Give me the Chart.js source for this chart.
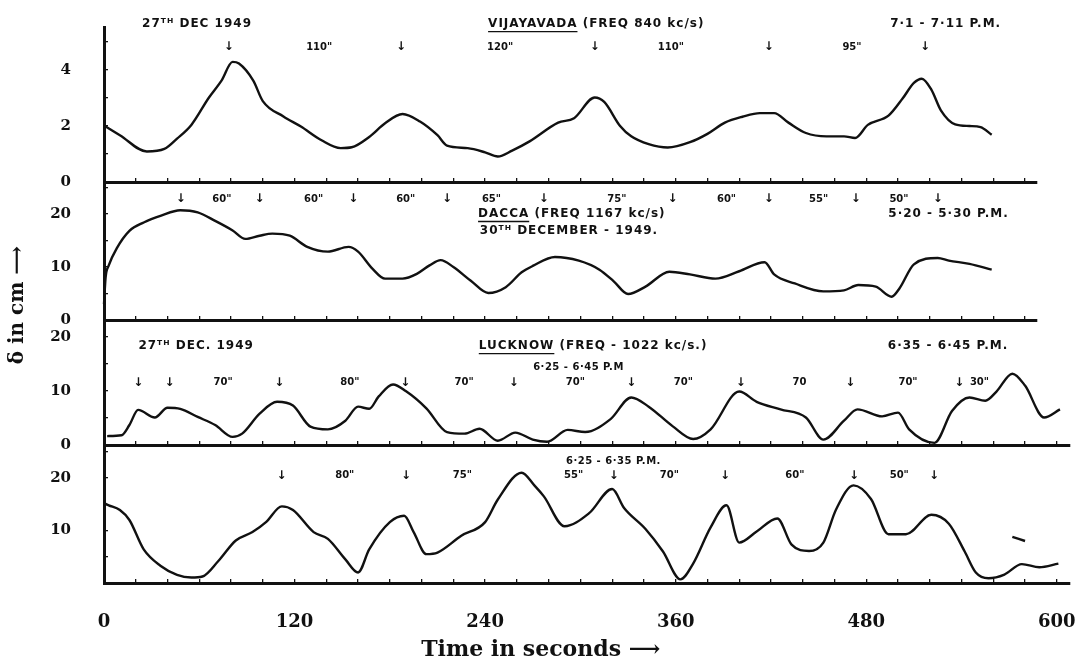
<!DOCTYPE html>
<html><head><meta charset="utf-8">
<script src="https://cdn.jsdelivr.net/npm/chart.js@4.4.1/dist/chart.umd.min.js"></script>
<style>
html,body{margin:0;padding:0;background:#fff;}
#wrap{position:relative;width:1078px;height:664px;overflow:hidden;background:#fff;}
#wrap canvas{position:absolute;left:0;top:0;}
</style></head><body>
<div id="wrap">
<canvas id="p1" width="1078" height="664"></canvas>
<canvas id="p2" width="1078" height="664"></canvas>
<canvas id="p3" width="1078" height="664"></canvas>
<canvas id="p4" width="1078" height="664"></canvas>
</div>
<script>
// ---------------- DATA: [time in seconds, δ in cm] ----------------
const vijayavada = [[0,2.02],[10,1.67],[27,1.09],[38,1.18],[46,1.55],[55,2.04],[66,3.01],[74,3.62],[81,4.29],[85,4.23],[94,3.62],[100,2.89],[113,2.34],[124,1.98],[137,1.49],[149,1.21],[156,1.24],[167,1.61],[177,2.10],[188,2.43],[199,2.16],[210,1.67],[216,1.30],[229,1.21],[240,1.06],[248,0.91],[257,1.12],[268,1.45],[286,2.12],[296,2.28],[309,3.02],[315,2.86],[325,2.0],[332,1.63],[343,1.35],[355,1.23],[369,1.42],[380,1.72],[391,2.12],[402,2.33],[413,2.46],[422,2.46],[431,2.12],[442,1.75],[455,1.63],[466,1.63],[473,1.57],[481,2.04],[494,2.37],[503,2.99],[510,3.54],[515,3.69],[521,3.3],[527,2.56],[536,2.06],[545,2.0],[552,1.96],[559,1.69]];
const dacca = [[0,3],[1,8],[3,10.3],[8,13.5],[16,16.8],[25,18.4],[36,19.7],[48,20.7],[59,20.3],[70,18.7],[81,16.9],[89,15.3],[98,15.9],[106,16.3],[117,15.9],[128,13.8],[141,12.9],[154,13.8],[160,12.9],[169,9.7],[177,7.8],[188,7.8],[197,8.7],[205,10.3],[212,11.3],[220,10.0],[231,7.4],[242,5.1],[253,6.2],[263,9.0],[270,10.2],[284,11.9],[299,11.2],[312,9.5],[321,7.3],[330,4.9],[341,6.3],[356,9.1],[369,8.6],[385,7.8],[400,9.2],[416,10.9],[422,8.6],[435,6.9],[453,5.4],[466,5.6],[475,6.6],[486,6.3],[496,4.4],[501,6.0],[510,10.5],[525,11.7],[532,11.2],[545,10.6],[559,9.5]];
const lucknowA = [[2,1.65],[11,1.8],[16,3.7],[21.5,6.5],[32,5.1],[40,6.9],[48,6.7],[59,5.2],[70,3.7],[81,1.5],[87,2.1],[98,5.8],[109,8.0],[119,7.3],[130,3.4],[141,2.9],[152,4.5],[160,7.1],[167,6.7],[173,9.0],[182,11.2],[190,10.0],[203,6.8],[216,2.4],[227,2.1],[236.5,3.0],[248,0.8],[259,2.3],[270,1.0],[279,0.6],[292,2.8],[303,2.4],[319,4.8],[332,8.8],[343,7.1],[358,3.5],[371,1.1],[382,2.9],[400,9.9],[411,8.0],[426,6.6],[442,5.1],[453,1.0],[466,4.5],[474.5,6.6],[490,5.3],[500,6.0],[507,2.9],[523,0.4],[534,6.3],[545,8.8],[555,8.2],[562,9.9],[572,13.2],[580,11.0],[592,5.1],[602,6.6]];
const lucknowB = [[0,15.2],[3,14.8],[10,13.9],[16,12.0],[25,6.4],[35.5,3.3],[46,1.56],[55,1.05],[62,1.24],[72,4.2],[83,8.1],[93.5,9.7],[102,11.6],[112,14.6],[119,13.9],[132,9.7],[141,8.4],[152,4.5],[160,2.0],[167,6.4],[180,11.6],[189,12.8],[195,9.7],[203,5.5],[210,5.8],[225,9.0],[240,11.6],[248,15.9],[263,21.0],[271,18.6],[277,16.5],[290,10.8],[305.5,13.3],[320,17.9],[327.5,14.3],[341,10.3],[352,6.0],[363,0.7],[371,3.7],[382,10.6],[392,14.8],[400,7.7],[411,9.8],[424,12.3],[433,7.3],[444,6.1],[453,7.7],[461,14.0],[472,18.6],[483,16.0],[494,9.3],[505,9.3],[521,13.0],[532,11.3],[542,6.0],[549,2.0],[557,0.9],[567,1.6],[578,3.6],[589,3.0],[601,3.7]];
const lucknowBStray = [[572,8.8],[580,8.0]];

const xTickLabels = [0,120,240,360,480,600];
const yLabels1 = [0,2,4];
const yLabels2 = [0,10,20];
const yLabels3 = [0,10,20];
const yLabels4 = [10,20];

// notes: text, time (s), δ level, kind, underlined characters
const notes1 = [
  ['27ᵀᴴ DEC 1949',58.6,5.64,'head'],['VIJAYAVADA (FREQ 840 kc/s)',310,5.64,'head',10],['7·1 - 7·11 P.M.',530,5.64,'head'],
  ['↓',78.5,4.82,'arrow'],['↓',187,4.82,'arrow'],['↓',309,4.82,'arrow'],['↓',418.6,4.82,'arrow'],['↓',517,4.82,'arrow'],
  ['110"',135.5,4.82,'per'],['120"',249.4,4.82,'per'],['110"',357,4.82,'per'],['95"',471,4.82,'per']
];
const notes2 = [
  ['↓',48.4,22.8,'arrow'],['↓',97.9,22.8,'arrow'],['↓',157,22.8,'arrow'],['↓',216,22.8,'arrow'],['↓',277,22.8,'arrow'],['↓',358,22.8,'arrow'],['↓',418.6,22.8,'arrow'],['↓',473.4,22.8,'arrow'],['↓',525,22.8,'arrow'],
  ['60"',74.2,22.8,'per'],['60"',132,22.8,'per'],['60"',190,22.8,'per'],['65"',244,22.8,'per'],['75"',323,22.8,'per'],['60"',392,22.8,'per'],['55"',450,22.8,'per'],['50"',500.6,22.8,'per'],
  ['DACCA (FREQ 1167 kc/s)',294.6,20,'head',5],['5·20 - 5·30 P.M.',531.8,20,'head'],
  ['30ᵀᴴ DECEMBER - 1949.',292.8,16.8,'head'],
  ['δ in cm ⟶',-54,2.8,'ytitle']
];
const notes3 = [
  ['27ᵀᴴ DEC. 1949',58,18.3,'head'],['LUCKNOW (FREQ - 1022 kc/s.)',308,18.3,'head',7],['6·35 - 6·45 P.M.',531.5,18.3,'head'],
  ['6·25 - 6·45 P.M',298.8,14.4,'small'],
  ['↓',21.6,11.5,'arrow'],['↓',41.3,11.5,'arrow'],['↓',110.4,11.5,'arrow'],['↓',189.7,11.5,'arrow'],['↓',258,11.5,'arrow'],['↓',332,11.5,'arrow'],['↓',401,11.5,'arrow'],['↓',470,11.5,'arrow'],['↓',538.6,11.5,'arrow'],
  ['70"',75,11.5,'per'],['80"',154.8,11.5,'per'],['70"',226.8,11.5,'per'],['70"',296.8,11.5,'per'],['70"',364.8,11.5,'per'],['70',438,11.5,'per'],['70"',506.3,11.5,'per'],['30"',551.3,11.5,'per']
];
const notes4 = [
  ['6·25 - 6·35 P.M.',320.8,23.2,'small'],
  ['↓',111.8,20.4,'arrow'],['↓',190.2,20.4,'arrow'],['↓',321,20.4,'arrow'],['↓',391,20.4,'arrow'],['↓',472.3,20.4,'arrow'],['↓',522.7,20.4,'arrow'],
  ['80"',151.6,20.4,'per'],['75"',225.7,20.4,'per'],['55"',295.7,20.4,'per'],['70"',356,20.4,'per'],['60"',435,20.4,'per'],['50"',500.8,20.4,'per'],
  ['Time in seconds ⟶',275,-12.8,'xtitle']
];

// ---------------- LAYOUT / STYLE ----------------
const W = 1078, H = 664, X0 = 104, PXS = 1.588, INK = '#111';
const SANS = "'DejaVu Sans', sans-serif", SERIF = "'DejaVu Serif', serif";
const noteFonts = {
  head: 'bold 12px ' + SANS, small: 'bold 10px ' + SANS, arrow: 'bold 12px ' + SANS,
  per: 'bold 10px ' + SANS, xtitle: 'bold 22px ' + SERIF, ytitle: 'bold 20px ' + SERIF
};
const noteSpacing = {head: '1px', small: '0.5px'};

function notesPlugin(list) {
  return {
    id: 'notes',
    afterDraw(chart) {
      const ctx = chart.ctx, xs = chart.scales.x, ys = chart.scales.y;
      list.forEach(([t, s, v, k, u]) => {
        ctx.save();
        ctx.font = noteFonts[k];
        if ('letterSpacing' in ctx) ctx.letterSpacing = noteSpacing[k] || '0px';
        ctx.fillStyle = INK; ctx.strokeStyle = INK;
        ctx.textAlign = 'center'; ctx.textBaseline = 'middle';
        const px = xs.getPixelForValue(s), py = ys.getPixelForValue(v);
        if (k === 'ytitle') {
          ctx.translate(px, py); ctx.rotate(-Math.PI / 2); ctx.fillText(t, 0, 0);
        } else {
          ctx.fillText(t, px, py);
          if (u) {
            const total = ctx.measureText(t).width, part = ctx.measureText(t.slice(0, u)).width;
            const x1 = px - total / 2;
            ctx.lineWidth = 1.3;
            ctx.beginPath(); ctx.moveTo(x1, py + 7.5); ctx.lineTo(x1 + part, py + 7.5); ctx.stroke();
          }
        }
        ctx.restore();
      });
    }
  };
}

function panel(id, top, bottom, xMax, yMax, yStep, yLabels, seriesList, notes, showX) {
  const xAxisH = showX ? 60 : 20;
  new Chart(document.getElementById(id), {
    type: 'line',
    data: {
      datasets: seriesList.map(ser => ({
        data: ser.map(([t, d]) => ({x: t, y: d})),
        borderColor: INK, borderWidth: 2.4, pointRadius: 0, fill: false,
        cubicInterpolationMode: 'monotone', clip: false
      }))
    },
    options: {
      responsive: false, animation: false, devicePixelRatio: 1,
      layout: {padding: {left: 0, top: top, right: W - (X0 + xMax * PXS), bottom: H - bottom - xAxisH}},
      plugins: {legend: {display: false}, tooltip: {enabled: false}, title: {display: false}},
      scales: {
        x: {
          type: 'linear', min: 0, max: xMax,
          afterFit(s) { s.height = xAxisH; s.paddingLeft = 0; s.paddingRight = 0; },
          grid: {display: true, drawOnChartArea: false, drawTicks: true, tickLength: -4, color: INK, lineWidth: 1.3},
          border: {display: true, color: INK, width: 3},
          ticks: {
            display: showX, stepSize: 20, includeBounds: false, autoSkip: false, maxRotation: 0, minRotation: 0,
            padding: 33, color: INK, font: {family: SERIF, size: 18, weight: 'bold'},
            callback: v => xTickLabels.includes(v) ? String(v) : ''
          }
        },
        y: {
          type: 'linear', min: 0, max: yMax,
          afterFit(s) { s.width = X0; s.paddingTop = 0; s.paddingBottom = 0; },
          grid: {display: true, drawOnChartArea: false, drawTicks: true, tickLength: -4, color: INK, lineWidth: 1.3},
          border: {display: true, color: INK, width: 3},
          ticks: {
            stepSize: yStep, includeBounds: false, autoSkip: false, padding: 37, color: INK,
            font: {family: SERIF, size: 15, weight: 'bold'},
            callback: v => yLabels.includes(v) ? String(v) : ''
          }
        }
      }
    },
    plugins: [notesPlugin(notes)]
  });
}

panel('p1', 27, 182, 587, 155 / 28, 1, yLabels1, [vijayavada], notes1, false);
panel('p2', 182, 320, 587, 138 / 5.3, 5, yLabels2, [dacca], notes2, false);
panel('p3', 320, 445, 608, 125 / 5.4, 5, yLabels3, [lucknowA], notes3, false);
panel('p4', 445, 583, 608, 138 / 5.25, 5, yLabels4, [lucknowB, lucknowBStray], notes4, true);
</script>
</body></html>
